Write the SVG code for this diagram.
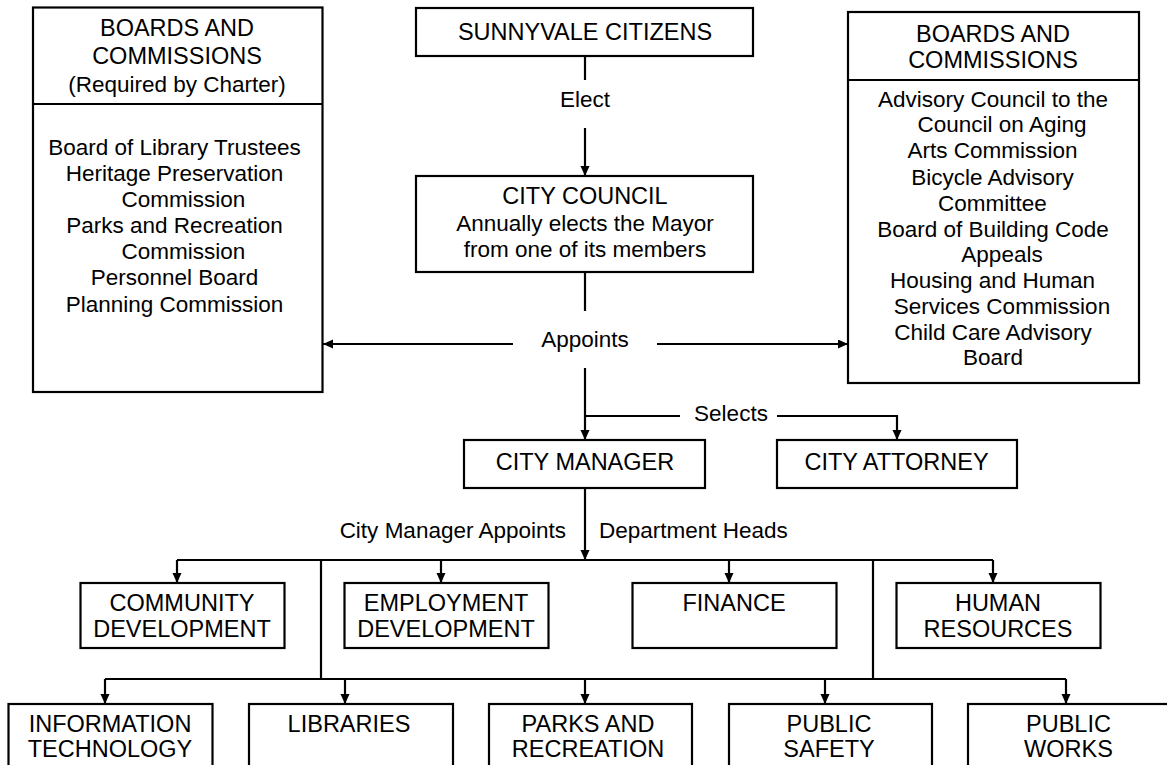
<svg xmlns="http://www.w3.org/2000/svg" width="1167" height="765" viewBox="0 0 1167 765">
<style>
.box{fill:#fff;stroke:#000;stroke-width:2.2}
.ln{fill:none;stroke:#000;stroke-width:2.2}
.arr{marker-end:url(#ah)}
text{font-family:"Liberation Sans",Arial,sans-serif;font-size:22.5px;fill:#000;text-anchor:middle}
.cap{font-size:23.5px}
.end{text-anchor:end}
.start{text-anchor:start}
</style>
<defs>
<marker id="ah" markerUnits="userSpaceOnUse" markerWidth="11" markerHeight="10" refX="10" refY="4.5" orient="auto">
<path d="M0,0 L10,4.5 L0,9 z" fill="#000"/>
</marker>
</defs>
<rect width="1167" height="765" fill="#fff"/>

<g id="connectors">
<line class="ln" x1="585" y1="56" x2="585" y2="80"/>
<line class="ln arr" x1="585" y1="128" x2="585" y2="176"/>
<line class="ln" x1="585" y1="272" x2="585" y2="311"/>
<line class="ln arr" x1="513" y1="344" x2="323" y2="344"/>
<line class="ln arr" x1="657" y1="344" x2="848" y2="344"/>
<line class="ln arr" x1="585" y1="368" x2="585" y2="440"/>
<line class="ln" x1="585" y1="416" x2="680" y2="416"/>
<path class="ln arr" d="M777,416 H897 V440"/>
<line class="ln arr" x1="585" y1="488" x2="585" y2="560"/>
<line class="ln" x1="177" y1="560" x2="993" y2="560"/>
<line class="ln arr" x1="177" y1="560" x2="177" y2="583"/>
<line class="ln arr" x1="441" y1="560" x2="441" y2="583"/>
<line class="ln arr" x1="729" y1="560" x2="729" y2="583"/>
<line class="ln arr" x1="993" y1="560" x2="993" y2="583"/>
<line class="ln" x1="321" y1="560" x2="321" y2="679"/>
<line class="ln" x1="873" y1="560" x2="873" y2="679"/>
<line class="ln" x1="105" y1="679" x2="1066" y2="679"/>
<line class="ln arr" x1="105" y1="679" x2="105" y2="704"/>
<line class="ln arr" x1="345" y1="679" x2="345" y2="704"/>
<line class="ln arr" x1="585" y1="679" x2="585" y2="704"/>
<line class="ln arr" x1="825" y1="679" x2="825" y2="704"/>
<line class="ln arr" x1="1066" y1="679" x2="1066" y2="704"/>
<text x="585" y="107">Elect</text>
<text x="585" y="347">Appoints</text>
<text x="731" y="421">Selects</text>
<text class="end" x="566" y="538">City Manager Appoints</text>
<text class="start" x="599" y="538">Department Heads</text>
</g>

<g id="boards-charter">
<rect class="box" x="33" y="7.5" width="289.5" height="384.5"/>
<line class="ln" x1="33" y1="104" x2="322.5" y2="104"/>
<text class="cap" x="177" y="36">BOARDS AND</text>
<text class="cap" x="177" y="64">COMMISSIONS</text>
<text x="177" y="91.5">(Required by Charter)</text>
<text x="174.5" y="155">Board of Library Trustees</text>
<text x="174.5" y="181">Heritage Preservation</text>
<text x="183.5" y="207">Commission</text>
<text x="174.5" y="233">Parks and Recreation</text>
<text x="183.5" y="259">Commission</text>
<text x="174.5" y="285">Personnel Board</text>
<text x="174.5" y="311.5">Planning Commission</text>
</g>

<g id="citizens">
<rect class="box" x="416" y="8" width="337" height="48"/>
<text class="cap" x="585" y="40">SUNNYVALE CITIZENS</text>
</g>

<g id="council">
<rect class="box" x="416" y="176" width="337" height="96"/>
<text class="cap" x="585" y="204">CITY COUNCIL</text>
<text x="585" y="230.5">Annually elects the Mayor</text>
<text x="585" y="256.5">from one of its members</text>
</g>

<g id="boards">
<rect class="box" x="848" y="12" width="291" height="371"/>
<line class="ln" x1="848" y1="80" x2="1139" y2="80"/>
<text class="cap" x="993" y="41.5">BOARDS AND</text>
<text class="cap" x="993" y="68">COMMISSIONS</text>
<text x="993" y="106.5">Advisory Council to the</text>
<text x="1002" y="132">Council on Aging</text>
<text x="992.5" y="158">Arts Commission</text>
<text x="992.5" y="184.5">Bicycle Advisory</text>
<text x="992.5" y="211">Committee</text>
<text x="993" y="236.5">Board of Building Code</text>
<text x="1002" y="262">Appeals</text>
<text x="992.5" y="288">Housing and Human</text>
<text x="1002" y="313.5">Services Commission</text>
<text x="993" y="340">Child Care Advisory</text>
<text x="993" y="365">Board</text>
</g>

<g id="city-manager">
<rect class="box" x="464" y="440" width="241" height="48"/>
<text class="cap" x="585" y="470">CITY MANAGER</text>
</g>

<g id="city-attorney">
<rect class="box" x="777" y="440" width="240" height="48"/>
<text class="cap" x="896.5" y="470">CITY ATTORNEY</text>
</g>

<g id="community-development">
<rect class="box" x="80.5" y="583" width="204" height="65"/>
<text class="cap" x="182" y="611">COMMUNITY</text>
<text class="cap" x="182" y="637">DEVELOPMENT</text>
</g>

<g id="employment-development">
<rect class="box" x="344.5" y="583" width="204" height="65"/>
<text class="cap" x="446" y="611">EMPLOYMENT</text>
<text class="cap" x="446" y="637">DEVELOPMENT</text>
</g>

<g id="finance">
<rect class="box" x="632.5" y="583" width="204" height="65"/>
<text class="cap" x="734" y="611">FINANCE</text>
</g>

<g id="human-resources">
<rect class="box" x="896.5" y="583" width="204" height="65"/>
<text class="cap" x="998" y="611">HUMAN</text>
<text class="cap" x="998" y="637">RESOURCES</text>
</g>

<g id="information-technology">
<rect class="box" x="8.5" y="704" width="204" height="80"/>
<text class="cap" x="110" y="732">INFORMATION</text>
<text class="cap" x="110" y="757">TECHNOLOGY</text>
</g>

<g id="libraries">
<rect class="box" x="249" y="704" width="204" height="80"/>
<text class="cap" x="349" y="732">LIBRARIES</text>
</g>

<g id="parks-and-recreation">
<rect class="box" x="489" y="704" width="203" height="80"/>
<text class="cap" x="588" y="732">PARKS AND</text>
<text class="cap" x="588" y="757">RECREATION</text>
</g>

<g id="public-safety">
<rect class="box" x="729" y="704" width="203" height="80"/>
<text class="cap" x="829" y="732">PUBLIC</text>
<text class="cap" x="829" y="757">SAFETY</text>
</g>

<g id="public-works">
<rect class="box" x="968" y="704" width="215" height="80"/>
<text class="cap" x="1068.5" y="732">PUBLIC</text>
<text class="cap" x="1068.5" y="757">WORKS</text>
</g>
</svg>
